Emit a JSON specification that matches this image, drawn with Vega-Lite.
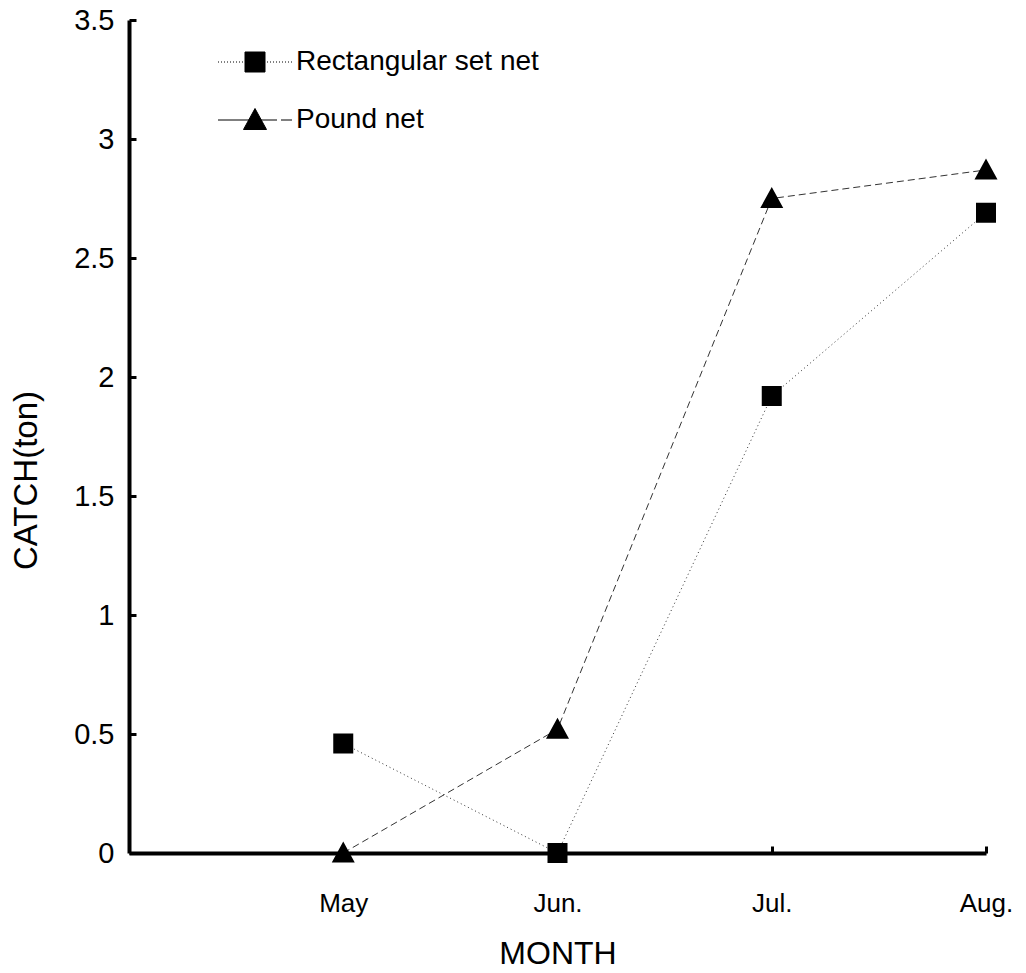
{
  "$schema": "https://vega.github.io/schema/vega-lite/v6.json",
  "width": 857,
  "height": 833,
  "autosize": {"type": "none"},
  "padding": {"left": 129, "top": 20, "right": 40, "bottom": 120},
  "background": "white",
  "config": {
    "view": {"stroke": null},
    "font": "Liberation Sans"
  },
  "data": {
    "values": [
      {"series": "Rectangular set net", "month": 1, "catch": 0.46},
      {"series": "Rectangular set net", "month": 2, "catch": 0.0},
      {"series": "Rectangular set net", "month": 3, "catch": 1.92},
      {"series": "Rectangular set net", "month": 4, "catch": 2.69},
      {"series": "Pound net", "month": 1, "catch": 0.0},
      {"series": "Pound net", "month": 2, "catch": 0.52},
      {"series": "Pound net", "month": 3, "catch": 2.75},
      {"series": "Pound net", "month": 4, "catch": 2.87}
    ]
  },
  "encoding": {
    "x": {
      "field": "month",
      "type": "quantitative",
      "scale": {"domain": [0, 4], "nice": false, "zero": false},
      "axis": {
        "title": "MONTH",
        "values": [1, 2, 3, 4],
        "labelExpr": "['', 'May', 'Jun.', 'Jul.', 'Aug.'][datum.value]",
        "grid": false,
        "domainColor": "black",
        "domainWidth": 4,
        "tickColor": "black",
        "tickWidth": 3,
        "tickSize": -7,
        "labelPadding": 44,
        "labelFontSize": 26,
        "labelColor": "black",
        "labelFlush": false,
        "titleFontSize": 32,
        "titleFontWeight": "normal",
        "titleColor": "black",
        "titlePadding": 22
      }
    },
    "y": {
      "field": "catch",
      "type": "quantitative",
      "scale": {"domain": [0, 3.5], "nice": false},
      "axis": {
        "title": "CATCH(ton)",
        "values": [0, 0.5, 1, 1.5, 2, 2.5, 3, 3.5],
        "format": "~g",
        "grid": false,
        "domainColor": "black",
        "domainWidth": 4,
        "tickColor": "black",
        "tickWidth": 3,
        "tickSize": -7,
        "labelPadding": 22,
        "labelFontSize": 29,
        "labelColor": "black",
        "labelFlush": false,
        "titleFontSize": 33,
        "titleFontWeight": "normal",
        "titleColor": "black",
        "titlePadding": 30,
        "titleY": 460
      }
    }
  },
  "layer": [
    {
      "transform": [{"filter": "datum.series == 'Rectangular set net'"}],
      "mark": {"type": "line", "color": "#333333", "strokeWidth": 1, "strokeDash": [1, 3]},
      "encoding": {}
    },
    {
      "transform": [{"filter": "datum.series == 'Pound net'"}],
      "mark": {"type": "line", "color": "#333333", "strokeWidth": 1, "strokeDash": [7, 4]},
      "encoding": {}
    },
    {
      "mark": {"type": "point", "filled": true, "color": "black", "size": 400, "opacity": 1},
      "encoding": {
        "shape": {
          "field": "series",
          "type": "nominal",
          "scale": {
            "domain": ["Rectangular set net", "Pound net"],
            "range": [
              "M-1,-1H1V1H-1ZM-3.7,0H-3.6M-3.4,0H-3.3M-3.1,0H-3M-2.8,0H-2.7M-2.5,0H-2.4M-2.2,0H-2.1M-1.9,0H-1.8M-1.6,0H-1.5M-1.3,0H-1.2M1.2,0H1.3M1.5,0H1.6M1.8,0H1.9M2.1,0H2.2M2.4,0H2.5M2.7,0H2.8M3,0H3.1M3.3,0H3.4M3.6,0H3.7",
              "M0,-1.15L1.15,0.95L-1.15,0.95ZM-3.7,0H-0.5M0.5,0H2.2M2.6,0H3.7"
            ]
          },
          "legend": {
            "title": null,
            "orient": "none",
            "legendX": 112,
            "legendY": 28,
            "padding": 0,
            "symbolSize": 400,
            "symbolFillColor": "black",
            "symbolStrokeColor": "black",
            "symbolStrokeWidth": 1,
            "symbolOpacity": 1,
            "rowPadding": 30,
            "labelFontSize": 28,
            "labelColor": "black",
            "labelOffset": 27,
            "labelLimit": 400,
            "encoding": {
              "symbols": {
                "fill": {"value": "black"},
                "stroke": {"value": "black"},
                "strokeWidth": {"value": 1},
                "strokeOpacity": {"value": 1},
                "opacity": {"value": 1}
              }
            }
          }
        }
      }
    }
  ]
}
